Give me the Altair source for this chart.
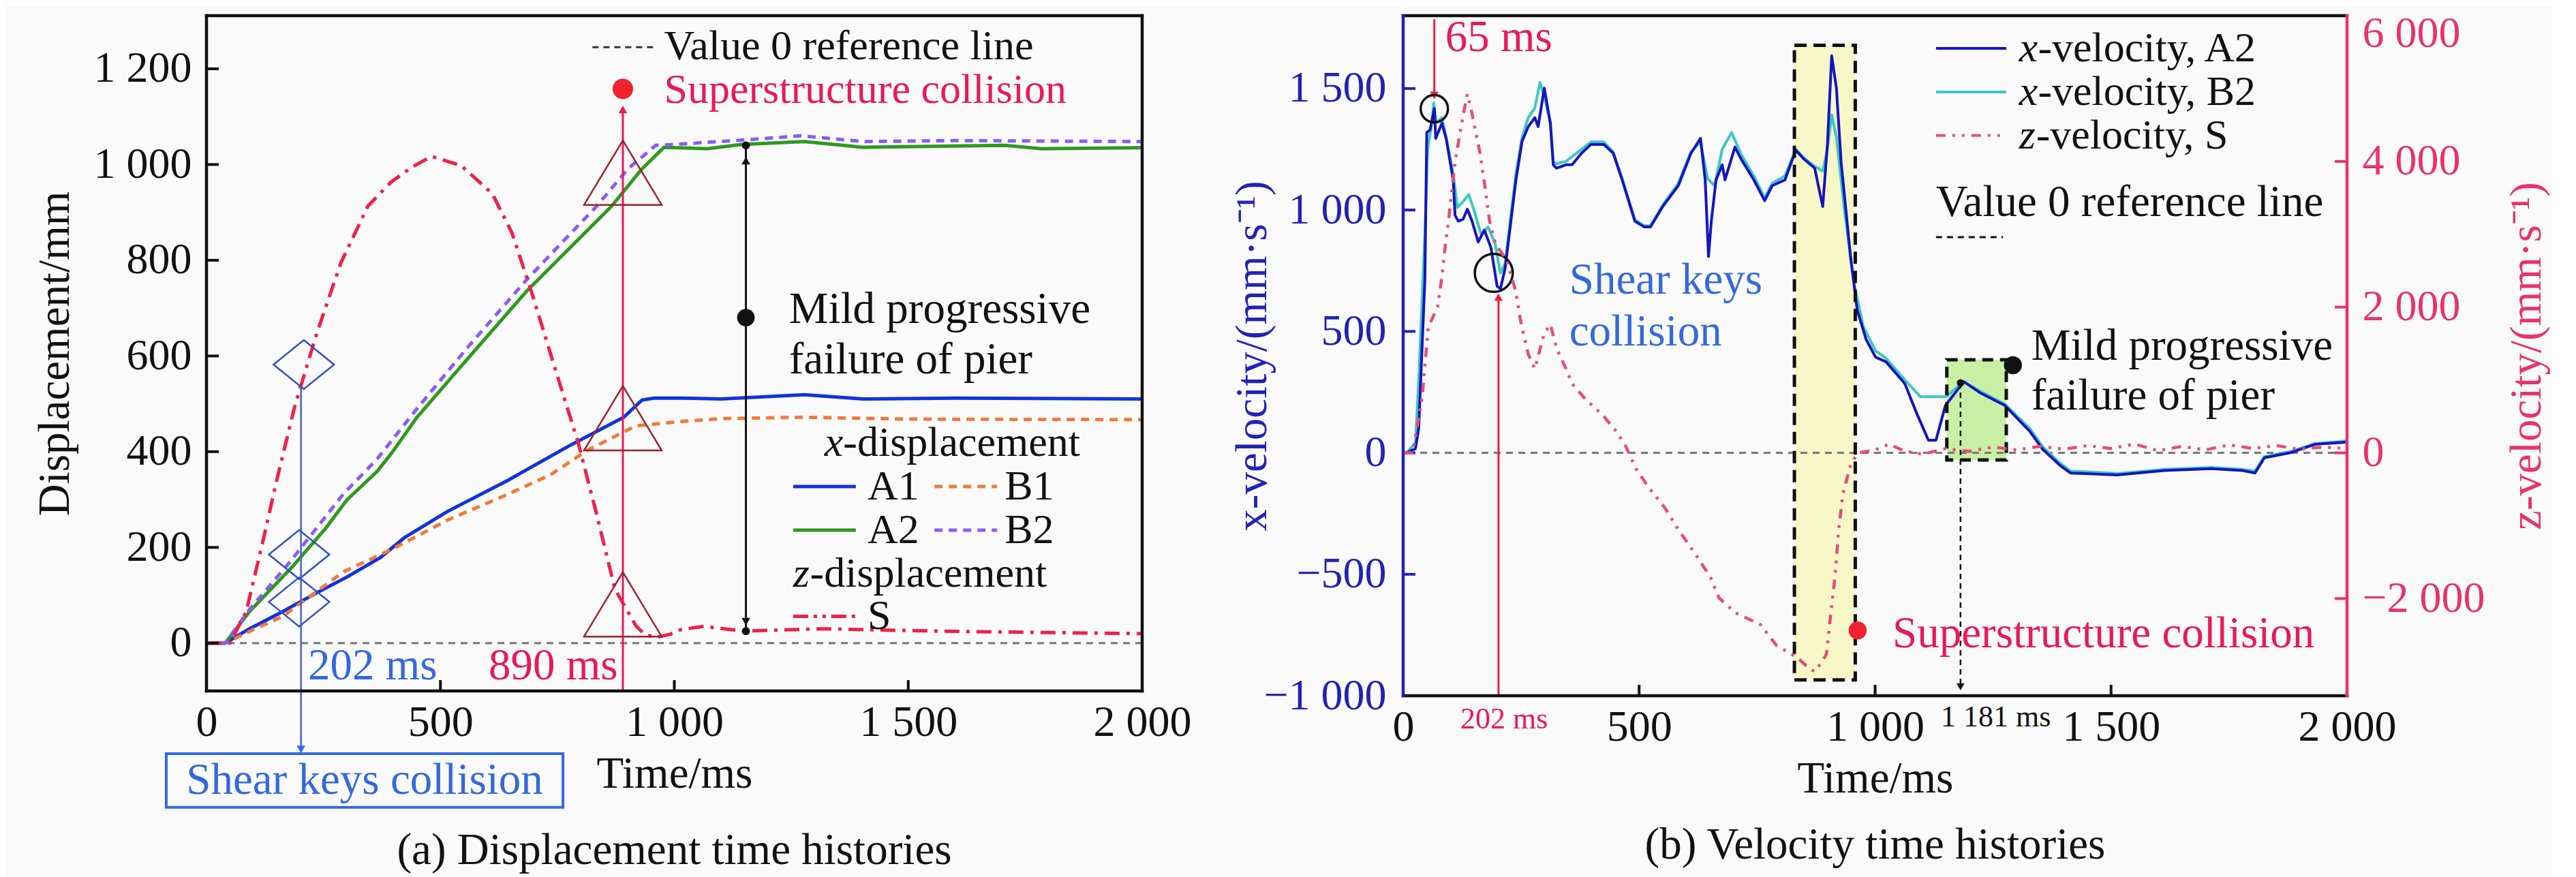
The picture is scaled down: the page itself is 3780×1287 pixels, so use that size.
import altair as alt
import pandas as pd

FONT = "Liberation Serif"
FS = 65
FS_LEG = 62
FS_AX = 64
FS_SMALL = 44
BG = "#FAFAFA"
INK = "#111111"
CRIMSON = "#E8195A"
DOT_RED = "#F2222E"
TXT_BLUE = "#3569DB"
AX_BLUE = "#2323B2"
AX_CRIMSON = "#E8336B"

W1, H1 = 1373, 991
W2, H2 = 1385, 998

# ================= (a) Displacement time histories =================
time_A1 = [0, 40, 92, 163, 241, 300, 372, 424, 515, 644, 775, 892, 931, 957, 1015, 1100, 1278, 1404, 1600, 2000]
disp_A1 = [0, 0, 30, 66, 108, 138, 179, 221, 275, 340, 412, 472, 508, 512, 512, 510, 519, 510, 512, 510]
time_B1 = [0, 40, 100, 163, 293, 398, 515, 644, 736, 814, 918, 1015, 1100, 1278, 1500, 2000]
disp_B1 = [0, 0, 28, 56, 149, 197, 257, 311, 352, 403, 454, 463, 469, 472, 468, 467]
time_A2 = [0, 40, 92, 183, 254, 300, 365, 398, 450, 534, 684, 866, 930, 978, 1070, 1144, 1278, 1404, 1550, 1706, 1784, 2000]
disp_A2 = [0, 0, 66, 159, 239, 299, 359, 400, 472, 567, 735, 913, 990, 1036, 1033, 1042, 1048, 1036, 1038, 1040, 1033, 1035]
time_B2 = [0, 40, 90, 177, 293, 365, 450, 560, 684, 834, 900, 960, 1000, 1144, 1271, 1404, 1600, 2000]
disp_B2 = [0, 0, 68, 168, 312, 385, 490, 620, 759, 913, 990, 1040, 1042, 1051, 1060, 1048, 1050, 1048]
time_S = [0, 50, 85, 124, 150, 189, 235, 287, 345, 394, 440, 481, 544, 611, 653, 695, 745, 795, 834, 873,
          918, 937, 960, 990, 1013, 1063, 1147, 1314, 1565, 1800, 2000]
disp_S = [0, 0, 66, 227, 340, 496, 645, 794, 913, 963, 995, 1017, 998, 939, 857, 733, 574, 417, 269, 113,
          36, 18, 12, 18, 28, 35, 25, 30, 25, 22, 20]

# ================= (b) Velocity time histories =================
vt_A2 = [0, 7, 26, 33, 46, 50, 57, 66, 69, 82, 91, 106, 110, 117, 127, 136, 146, 159, 172, 186,
         199, 206, 216, 239, 252, 265, 279, 286, 299, 312, 318, 325, 345, 358, 378, 398, 425, 445, 464, 491,
         511, 524, 550, 583, 610, 630, 640, 647, 653, 663, 676, 682, 703, 716, 743, 766, 782, 809, 832, 849,
         872, 889, 899, 908, 918, 928, 948, 962, 981, 1001, 1023, 1063, 1089, 1113, 1129, 1149, 1188, 1222, 1275, 1328,
         1355, 1394, 1414, 1513, 1613, 1712, 1779, 1805, 1825, 1879, 1932, 1991, 2000]
vel_A2 = [0, 0, 17, 102, 711, 1319, 1330, 1417, 1295, 1357, 1295, 1124, 977, 954, 962, 1003, 954, 868, 917, 845,
          686, 675, 759, 1124, 1283, 1343, 1380, 1343, 1502, 1355, 1186, 1172, 1186, 1186, 1234, 1270, 1270, 1234, 1124, 954,
          930, 930, 1014, 1100, 1234, 1295, 1124, 808, 954, 1124, 1186, 1124, 1259, 1210, 1124, 1038, 1100, 1124, 1246, 1210,
          1172, 1014, 1270, 1635, 1502, 1197, 808, 589, 467, 394, 375, 285, 159, 52, 52, 195, 293, 248, 195, 88,
          15, -55, -83, -91, -73, -65, -73, -83, -20, 0, 35, 43, 45]
vt_B2 = [0, 7, 26, 33, 46, 52, 60, 65, 70, 82, 91, 106, 115, 125, 139, 150, 165, 180, 195, 206,
         216, 239, 252, 265, 279, 290, 300, 312, 318, 325, 345, 378, 398, 425, 445, 464, 491, 511, 524, 550,
         583, 610, 630, 645, 660, 676, 696, 716, 743, 766, 782, 809, 832, 849, 872, 889, 899, 908, 918, 935,
         955, 975, 1001, 1023, 1063, 1096, 1150, 1188, 1222, 1275, 1328, 1355, 1394, 1414, 1513, 1613, 1712, 1779, 1805, 1825,
         1879, 1932, 1991, 2000]
vel_B2 = [0, 0, 40, 300, 900, 1250, 1350, 1441, 1360, 1380, 1300, 1150, 1010, 1030, 1064, 1000, 900, 930, 860, 740,
          780, 1150, 1300, 1380, 1420, 1526, 1460, 1360, 1200, 1190, 1200, 1250, 1280, 1280, 1240, 1130, 960, 935, 935, 1020,
          1110, 1240, 1280, 1130, 1100, 1250, 1319, 1230, 1140, 1050, 1110, 1140, 1250, 1215, 1180, 1160, 1250, 1392, 1300, 1000,
          700, 520, 420, 390, 300, 231, 231, 293, 255, 200, 100, 25, -45, -75, -85, -68, -60, -68, -75, -15,
          5, 38, 48, 50]
vt_S = [0, 20, 40, 53, 73, 82, 90, 96, 110, 126, 136, 145, 163, 173, 183, 196, 219, 239, 249, 265,
        279, 299, 312, 325, 345, 358, 385, 425, 451, 471, 494, 520, 555, 582, 617, 651, 669, 704, 757, 791,
        835, 862, 873, 897, 905, 915, 923, 932, 949, 964, 1000, 1030, 1060, 1100, 1150, 1200, 1250, 1300, 1350, 1400,
        1450, 1500, 1550, 1600, 1650, 1700, 1750, 1800, 1850, 1900, 1950, 2000]
vel_S = [0, 0, 746, 1719, 2006, 2409, 2895, 3180, 3992, 4600, 4925, 4682, 4111, 3667, 3180, 2858, 2652, 2207, 1801, 1355,
         1155, 1642, 1763, 1436, 1155, 949, 746, 502, 300, 98, -225, -472, -759, -1043, -1370, -1702, -1988, -2194, -2357, -2643,
         -2808, -2970, -3000, -2764, -2275, -1698, -1043, -554, -145, 0, 40, 120, 30, -20, 60, 20, 80, 40, 90, 50,
         100, 60, 120, 30, 90, 40, 110, 60, 100, 50, 80, 60]

# tick values
ticks_time = [0, 500, 1000, 1500, 2000]
ticks_disp = [0, 200, 400, 600, 800, 1000, 1200]
ticks_vx = [-1000, -500, 0, 500, 1000, 1500]
ticks_vz = [-2000, 0, 2000, 4000, 6000]

NUM = "replace(format(datum.value, ','), ',', ' ')"

DIAMOND = "M -1 0 L 0 -0.81 L 1 0 L 0 0.81 Z"
TRIANGLE = "M 0 -0.83 L 1 0.83 L -1 0.83 Z"


def df1(**cols):
    return pd.DataFrame(cols)


def mk_line(X, Y, t, v, color, width, dash=None):
    kw = dict(color=color, strokeWidth=width, strokeJoin="round")
    if dash:
        kw["strokeDash"] = dash
    return alt.Chart(df1(t=t, v=v)).mark_line(**kw).encode(x=X(), y=Y())


def mk_seg(X, Y, t, v, t2, v2, color, width, dash=None):
    kw = dict(color=color, strokeWidth=width)
    if dash:
        kw["strokeDash"] = dash
    return alt.Chart(df1(t=[t], v=[v], t2=[t2], v2=[v2])).mark_rule(**kw).encode(
        x=X(), y=Y(), x2=alt.X2("t2"), y2=alt.Y2("v2"))


def mk_pts(X, Y, t, v, shape, size, color, filled, sw=2.5):
    return alt.Chart(df1(t=t, v=v)).mark_point(
        shape=shape, size=size, color=color, filled=filled, opacity=1, strokeWidth=sw
    ).encode(x=X(), y=Y())


def mk_text(X, Y, t, v, s, color, size=FS, align="left", style="normal"):
    return alt.Chart(df1(t=[t], v=[v])).mark_text(
        text=s, font=FONT, fontSize=size, color=color, align=align, baseline="middle",
        fontStyle=style
    ).encode(x=X(), y=Y())


def mk_rect(X, Y, t, v, t2, v2, fill=None, stroke=None, sw=0, dash=None):
    kw = dict()
    if fill:
        kw["fill"] = fill
        kw["fillOpacity"] = 1
    else:
        kw["fillOpacity"] = 0
    if stroke:
        kw["stroke"] = stroke
        kw["strokeWidth"] = sw
    if dash:
        kw["strokeDash"] = dash
    return alt.Chart(df1(t=[t], v=[v], t2=[t2], v2=[v2])).mark_rect(**kw).encode(
        x=X(), y=Y(), x2=alt.X2("t2"), y2=alt.Y2("v2"))


def frame(width, height, top, bottom, left, right, sw=4.5):
    base = alt.Chart(df1(k=[0]))
    kw = dict(strokeWidth=sw, strokeCap="square")
    return [
        base.mark_rule(color=top, **kw).encode(x=alt.value(0), x2=alt.value(width), y=alt.value(0)),
        base.mark_rule(color=bottom, **kw).encode(x=alt.value(0), x2=alt.value(width), y=alt.value(height)),
        base.mark_rule(color=left, **kw).encode(x=alt.value(0), y=alt.value(0), y2=alt.value(height)),
        base.mark_rule(color=right, **kw).encode(x=alt.value(width), y=alt.value(0), y2=alt.value(height)),
    ]


# ---------------- panel (a) ----------------
xs_a = alt.Scale(domain=[0, 2000], nice=False, zero=False)
ys_a = alt.Scale(domain=[-100, 1311], nice=False, zero=False)
ax_xa = alt.Axis(values=ticks_time, labelExpr=NUM, labelPadding=14, title="Time/ms", titlePadding=12)
ax_ya = alt.Axis(values=ticks_disp, labelExpr=NUM, labelPadding=22, title="Displacement/mm",
                 titleX=-223, titleY=H1 / 2, titleAngle=270, titleBaseline="middle", titleAlign="center")


def XA():
    return alt.X("t:Q", scale=xs_a, axis=ax_xa)


def YA():
    return alt.Y("v:Q", scale=ys_a, axis=ax_ya)


la = []
la.append(alt.Chart(df1(v=[0])).mark_rule(color="#777777", strokeDash=[10, 8], strokeWidth=3).encode(y=YA()))
la.append(mk_line(XA, YA, time_A1, disp_A1, "#1133DD", 5))
la.append(mk_line(XA, YA, time_B1, disp_B1, "#F07A3A", 5, [12, 9]))
la.append(mk_line(XA, YA, time_A2, disp_A2, "#2E9A1E", 5))
la.append(mk_line(XA, YA, time_B2, disp_B2, "#8B5CF6", 5, [12, 9]))
la.append(mk_line(XA, YA, time_S, disp_S, "#F0204A", 5, [22, 10, 5, 10]))
# shear keys markers and arrow
la.append(mk_seg(XA, YA, 202, 532, 202, -215, "#4060D0", 2.5))
la.append(mk_pts(XA, YA, [202], [-222], "triangle-down", 160, "#2F6BE8", True))
la.append(mk_pts(XA, YA, [208, 198, 198], [582, 185, 86], DIAMOND, 7900, "#3050C0", False, 2.5))
la.append(mk_rect(XA, YA, -86, -231, 762, -343, stroke="#2F6BE8", sw=4))
la.append(mk_text(XA, YA, 338, -287, "Shear keys collision", TXT_BLUE, align="center"))
la.append(mk_text(XA, YA, 217, -47, "202 ms", TXT_BLUE))
# superstructure collision at 890 ms
la.append(mk_seg(XA, YA, 890, -100, 890, 1110, CRIMSON, 3))
la.append(mk_pts(XA, YA, [890], [1115], "triangle-up", 160, CRIMSON, True))
la.append(mk_pts(XA, YA, [890, 890, 890], [983, 470, 81], TRIANGLE, 13000, "#A0202D", False, 2.5))
la.append(mk_pts(XA, YA, [890], [1158], "circle", 900, DOT_RED, True))
la.append(mk_text(XA, YA, 603, -47, "890 ms", CRIMSON))
la.append(mk_text(XA, YA, 978, 1156, "Superstructure collision", CRIMSON, size=FS_LEG))
# mild progressive failure
la.append(mk_seg(XA, YA, 1153, 25, 1153, 1040, INK, 3))
la.append(mk_pts(XA, YA, [1153], [1008], "triangle-up", 160, INK, True))
la.append(mk_pts(XA, YA, [1153], [45], "triangle-down", 160, INK, True))
la.append(mk_pts(XA, YA, [1153, 1153], [1040, 25], "circle", 140, INK, True))
la.append(mk_pts(XA, YA, [1153], [680], "circle", 660, INK, True))
la.append(mk_text(XA, YA, 1245, 698, "Mild progressive", INK))
la.append(mk_text(XA, YA, 1245, 592, "failure of pier", INK))
# legend
la.append(mk_seg(XA, YA, 825, 1245, 956, 1245, "#333333", 3, [9, 7]))
la.append(mk_text(XA, YA, 978, 1247, "Value 0 reference line", INK, size=FS_LEG))
la.append(mk_text(XA, YA, 1321, 418, "x", INK, size=FS_LEG, style="italic"))
la.append(mk_text(XA, YA, 1361, 418, "-displacement", INK, size=FS_LEG))
la.append(mk_seg(XA, YA, 1254, 327, 1388, 327, "#1133DD", 5))
la.append(mk_text(XA, YA, 1413, 327, "A1", INK, size=FS_LEG))
la.append(mk_seg(XA, YA, 1556, 327, 1690, 327, "#F07A3A", 5, [12, 9]))
la.append(mk_text(XA, YA, 1706, 327, "B1", INK, size=FS_LEG))
la.append(mk_seg(XA, YA, 1254, 236, 1388, 236, "#2E9A1E", 5))
la.append(mk_text(XA, YA, 1413, 236, "A2", INK, size=FS_LEG))
la.append(mk_seg(XA, YA, 1556, 236, 1690, 236, "#8B5CF6", 5, [12, 9]))
la.append(mk_text(XA, YA, 1706, 236, "B2", INK, size=FS_LEG))
la.append(mk_text(XA, YA, 1254, 145, "z", INK, size=FS_LEG, style="italic"))
la.append(mk_text(XA, YA, 1290, 145, "-displacement", INK, size=FS_LEG))
la.append(mk_seg(XA, YA, 1254, 56, 1388, 56, "#F0204A", 5, [22, 8, 5, 8, 5, 8]))
la.append(mk_text(XA, YA, 1413, 56, "S", INK, size=FS_LEG))
# caption
la.append(mk_text(XA, YA, 1000, -433, "(a) Displacement time histories", INK, align="center"))
# inward ticks + frame
la.append(alt.Chart(df1(v=ticks_disp)).mark_rule(color=INK, strokeWidth=4).encode(
    y=YA(), x=alt.value(0), x2=alt.value(18)))
la.append(alt.Chart(df1(t=ticks_time[1:-1])).mark_rule(color=INK, strokeWidth=4).encode(
    x=XA(), y=alt.value(H1), y2=alt.value(H1 - 16)))
la += frame(W1, H1, INK, INK, INK, INK)

panel_a = alt.layer(*la).properties(width=W1, height=H1)

# ---------------- panel (b) ----------------
xs_b = alt.Scale(domain=[0, 2000], nice=False, zero=False)
ys_b = alt.Scale(domain=[-1000, 1800], nice=False, zero=False)
zs_b = alt.Scale(domain=[-10000 / 3, 6000], nice=False, zero=False)
ax_xb = alt.Axis(values=ticks_time, labelExpr=NUM, labelPadding=14, title="Time/ms", titlePadding=12)
ax_yb = alt.Axis(values=ticks_vx, labelExpr=NUM, labelPadding=25, labelColor=AX_BLUE,
                 title="x-velocity/(mm·s⁻¹)", titleColor=AX_BLUE,
                 titleX=-222, titleY=H2 / 2, titleAngle=270, titleBaseline="middle", titleAlign="center")
ax_zb = alt.Axis(orient="right", values=ticks_vz, labelExpr=NUM, labelPadding=22, labelColor=AX_CRIMSON,
                 labelFlush=True, labelFlushOffset=6,
                 title="z-velocity/(mm·s⁻¹)", titleColor=AX_CRIMSON,
                 titleX=263, titleY=H2 / 2, titleAngle=270, titleBaseline="middle", titleAlign="center")


def XB():
    return alt.X("t:Q", scale=xs_b, axis=ax_xb)


def YB():
    return alt.Y("v:Q", scale=ys_b, axis=ax_yb)


def ZB():
    return alt.Y("v:Q", scale=zs_b, axis=ax_zb)


lb = []
lb.append(mk_rect(XB, YB, 829, -935, 958, 1678, fill="#F7F7C8"))
lb.append(mk_rect(XB, YB, 1152, -29, 1278, 383, fill="#C8F0A4"))
lb.append(alt.Chart(df1(v=[0])).mark_rule(color="#777777", strokeDash=[10, 8], strokeWidth=3).encode(y=YB()))
lb.append(mk_line(XB, YB, vt_B2, vel_B2, "#3CC8C0", 4))
lb.append(mk_line(XB, YB, vt_A2, vel_A2, "#1515C0", 4))
lb.append(mk_rect(XB, YB, 829, -935, 958, 1678, stroke=INK, sw=5, dash=[18, 10]))
lb.append(mk_rect(XB, YB, 1152, -29, 1278, 383, stroke=INK, sw=5, dash=[16, 10]))
# 65 ms
lb.append(mk_seg(XB, YB, 66, 1785, 66, 1480, "#F01E3A", 3))
lb.append(mk_pts(XB, YB, [66], [1472], "triangle-down", 160, "#F01E3A", True))
lb.append(mk_text(XB, YB, 89, 1711, "65 ms", CRIMSON))
lb.append(mk_pts(XB, YB, [66], [1417], "circle", 1600, INK, False, 3.5))
# 202 ms
lb.append(mk_pts(XB, YB, [192], [741], "circle", 3100, INK, False, 3.5))
lb.append(mk_seg(XB, YB, 202, -1000, 202, 630, "#F01E3A", 3))
lb.append(mk_pts(XB, YB, [202], [641], "triangle-up", 160, "#F01E3A", True))
lb.append(mk_text(XB, YB, 214, -1098, "202 ms", CRIMSON, size=FS_SMALL, align="center"))
lb.append(mk_text(XB, YB, 352, 711, "Shear keys", TXT_BLUE))
lb.append(mk_text(XB, YB, 352, 498, "collision", TXT_BLUE))
# superstructure collision
lb.append(mk_pts(XB, YB, [963], [-731], "circle", 700, DOT_RED, True))
lb.append(mk_text(XB, YB, 1037, -744, "Superstructure collision", CRIMSON))
# 1181 ms
lb.append(mk_seg(XB, YB, 1181, 288, 1181, -955, INK, 2.5, [8, 6]))
lb.append(mk_pts(XB, YB, [1181], [-963], "triangle-down", 140, INK, True))
lb.append(mk_pts(XB, YB, [1181], [288], "circle", 120, INK, True))
lb.append(mk_text(XB, YB, 1256, -1091, "1 181 ms", INK, size=FS_SMALL, align="center"))
lb.append(mk_pts(XB, YB, [1292], [361], "circle", 700, INK, True))
lb.append(mk_text(XB, YB, 1331, 439, "Mild progressive", INK))
lb.append(mk_text(XB, YB, 1331, 234, "failure of pier", INK))
# legend
lb.append(mk_seg(XB, YB, 1129, 1665, 1278, 1665, "#1515C0", 4))
lb.append(mk_text(XB, YB, 1305, 1665, "x", INK, size=FS_LEG, style="italic"))
lb.append(mk_text(XB, YB, 1345, 1665, "-velocity, A2", INK, size=FS_LEG))
lb.append(mk_seg(XB, YB, 1129, 1486, 1278, 1486, "#3CC8C0", 4))
lb.append(mk_text(XB, YB, 1305, 1486, "x", INK, size=FS_LEG, style="italic"))
lb.append(mk_text(XB, YB, 1345, 1486, "-velocity, B2", INK, size=FS_LEG))
lb.append(mk_seg(XB, YB, 1129, 1307, 1278, 1307, "#E84C78", 4, [14, 10, 4, 10, 4, 10]))
lb.append(mk_text(XB, YB, 1305, 1307, "z", INK, size=FS_LEG, style="italic"))
lb.append(mk_text(XB, YB, 1341, 1307, "-velocity, S", INK, size=FS_LEG))
lb.append(mk_text(XB, YB, 1129, 1031, "Value 0 reference line", INK))
lb.append(mk_seg(XB, YB, 1129, 888, 1271, 888, INK, 3, [9, 7]))
# caption
lb.append(mk_text(XB, YB, 1000, -1614, "(b) Velocity time histories", INK, align="center"))
# ticks (left scale and time)
lb.append(alt.Chart(df1(v=ticks_vx[1:])).mark_rule(color=AX_BLUE, strokeWidth=4).encode(
    y=YB(), x=alt.value(0), x2=alt.value(18)))
lb.append(alt.Chart(df1(t=ticks_time[1:-1])).mark_rule(color=INK, strokeWidth=4).encode(
    x=XB(), y=alt.value(H2), y2=alt.value(H2 - 16)))

rb = []
rb.append(mk_line(XB, ZB, vt_S, vel_S, "#E84C78", 4.5, [14, 10, 4, 10, 4, 10]))
rb.append(alt.Chart(df1(v=ticks_vz[:-1])).mark_rule(color=AX_CRIMSON, strokeWidth=4).encode(
    y=ZB(), x=alt.value(W2 - 18), x2=alt.value(W2)))
rb += frame(W2, H2, INK, INK, AX_BLUE, AX_CRIMSON)

panel_b = alt.layer(alt.layer(*lb), alt.layer(*rb)).resolve_scale(y="independent").properties(
    width=W2, height=H2)

chart = alt.hconcat(panel_a, panel_b, spacing=383, bounds="flush").configure(
    background=BG, padding={"left": 40, "top": 9, "right": 5, "bottom": 5}
).configure_view(stroke=None).configure_axis(
    labelFont=FONT, labelFontSize=FS_AX, titleFont=FONT, titleFontSize=FS, titleFontWeight="normal",
    labelColor=INK, titleColor=INK, grid=False, ticks=False, tickSize=0, domain=False,
    labelFlush=False, labelOverlap=False, labelLimit=600, titleLimit=1200
)

chart.save("out.html", embed_options={"renderer": "svg", "actions": False})
